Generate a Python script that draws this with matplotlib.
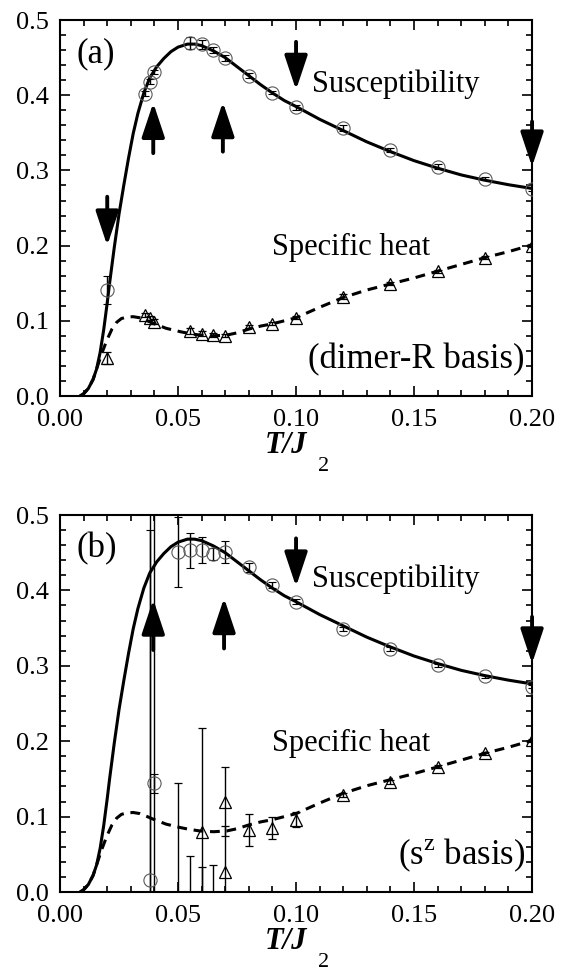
import matplotlib
matplotlib.use('Agg')
import matplotlib.pyplot as plt
from matplotlib.ticker import MultipleLocator, FormatStrFormatter

plt.rcParams['font.family'] = ['Liberation Serif', 'DejaVu Serif']
plt.rcParams['mathtext.fontset'] = 'custom'
plt.rcParams['mathtext.rm'] = 'Liberation Serif'

# reference curves (same in both panels)
T_chi_line = [0.0085, 0.010, 0.012, 0.014, 0.0155, 0.017, 0.0185, 0.020, 0.021, 0.023,
              0.025, 0.027, 0.029, 0.031, 0.033, 0.0355, 0.038, 0.041, 0.044, 0.047,
              0.050, 0.054, 0.057, 0.060, 0.065, 0.070, 0.075, 0.080, 0.085, 0.090,
              0.095, 0.10, 0.11, 0.12, 0.13, 0.14, 0.15, 0.16, 0.17, 0.18, 0.19, 0.20]
chi_line = [0.0, 0.003, 0.010, 0.022, 0.036, 0.058, 0.088, 0.124, 0.150, 0.198,
            0.242, 0.280, 0.316, 0.349, 0.376, 0.403, 0.423, 0.438, 0.449, 0.458,
            0.464, 0.468, 0.468, 0.466, 0.459, 0.450, 0.438, 0.426, 0.414, 0.403,
            0.393, 0.385, 0.368, 0.353, 0.338, 0.325, 0.313, 0.303, 0.294, 0.287, 0.281, 0.276]

T_C_line = [0.0085, 0.010, 0.012, 0.014, 0.0155, 0.0175, 0.0198, 0.022, 0.024, 0.026,
            0.0283, 0.031, 0.0339, 0.037, 0.0395, 0.045, 0.051, 0.055, 0.0593, 0.065,
            0.0706, 0.075, 0.080, 0.085, 0.090, 0.095, 0.10, 0.11, 0.12, 0.13,
            0.14, 0.15, 0.16, 0.17, 0.18, 0.19, 0.20]
C_line = [0.0, 0.003, 0.010, 0.022, 0.036, 0.055, 0.074, 0.089, 0.098, 0.103,
          0.105, 0.1055, 0.104, 0.100, 0.0966, 0.090, 0.0855, 0.083, 0.081, 0.080,
          0.081, 0.084, 0.089, 0.093, 0.096, 0.100, 0.104, 0.118, 0.131, 0.141,
          0.149, 0.157, 0.166, 0.175, 0.184, 0.192, 0.201]

# panel (a): dimer-R basis
T_chi_a = [0.02, 0.036, 0.038, 0.04, 0.055, 0.06, 0.065, 0.07, 0.08, 0.09, 0.10, 0.12, 0.14, 0.16, 0.18, 0.20]
chi_a = [0.141, 0.402, 0.418, 0.431, 0.470, 0.468, 0.460, 0.449, 0.426, 0.403, 0.384, 0.356, 0.327, 0.305, 0.289, 0.275]
chi_a_err = [0.018, 0.003, 0.003, 0.003, 0.008, 0.006, 0.004, 0.004, 0.003, 0.002, 0.003, 0.004, 0.003, 0.003, 0.002, 0.002]

T_C_a = [0.02, 0.036, 0.038, 0.04, 0.055, 0.06, 0.065, 0.07, 0.08, 0.09, 0.10, 0.12, 0.14, 0.16, 0.18, 0.20]
C_a = [0.050, 0.108, 0.104, 0.099, 0.086, 0.083, 0.081, 0.080, 0.092, 0.096, 0.104, 0.132, 0.149, 0.166, 0.184, 0.200]
C_a_err = [0.008, 0.003, 0.003, 0.003, 0.004, 0.003, 0.003, 0.002, 0.002, 0.002, 0.002, 0.003, 0.002, 0.002, 0.002, 0.002]

# panel (b): s^z basis
T_chi_b = [0.038, 0.04, 0.05, 0.055, 0.06, 0.065, 0.07, 0.08, 0.09, 0.10, 0.12, 0.14, 0.16, 0.18, 0.20]
chi_b = [0.016, 0.144, 0.451, 0.453, 0.454, 0.448, 0.451, 0.431, 0.407, 0.385, 0.349, 0.322, 0.301, 0.286, 0.272]
chi_b_err = [0.464, 0.013, 0.047, 0.023, 0.017, 0.008, 0.015, 0.006, 0.004, 0.003, 0.003, 0.003, 0.002, 0.002, 0.002]

T_C_b = [0.038, 0.04, 0.05, 0.055, 0.06, 0.06, 0.065, 0.07, 0.07, 0.08, 0.09, 0.10, 0.12, 0.14, 0.16, 0.18, 0.20]
C_b = [-0.25, -0.30, -0.15, -0.10, 0.080, -0.10, -0.10, 0.120, 0.027, 0.082, 0.085, 0.096, 0.129, 0.146, 0.166, 0.184, 0.201]
C_b_err = [0.90, 1.00, 0.294, 0.148, 0.138, 0.133, 0.136, 0.046, 0.060, 0.021, 0.015, 0.010, 0.003, 0.003, 0.002, 0.002, 0.002]

# arrows: (T, tail, tip)
arrows_a = [(0.02, 0.265, 0.200), (0.0395, 0.323, 0.390), (0.069, 0.325, 0.391),
            (0.10, 0.471, 0.407), (0.20, 0.365, 0.305)]
arrows_b = [(0.0395, 0.321, 0.388), (0.0695, 0.323, 0.390),
            (0.10, 0.469, 0.405), (0.20, 0.365, 0.303)]

fig = plt.figure(figsize=(5.61, 9.73), dpi=100)
ax_a = fig.add_axes([0.107, 0.593, 0.8414, 0.3864])
ax_b = fig.add_axes([0.107, 0.0832, 0.8414, 0.3875])


def style_axis(ax):
    ax.set_xlim(0, 0.2)
    ax.set_ylim(0, 0.5)
    ax.xaxis.set_major_locator(MultipleLocator(0.05))
    ax.xaxis.set_minor_locator(MultipleLocator(0.01))
    ax.yaxis.set_major_locator(MultipleLocator(0.1))
    ax.yaxis.set_minor_locator(MultipleLocator(0.02))
    ax.xaxis.set_major_formatter(FormatStrFormatter('%.2f'))
    ax.yaxis.set_major_formatter(FormatStrFormatter('%.1f'))
    ax.tick_params(which='both', direction='in', top=True, right=True, width=1.2)
    ax.tick_params(which='major', length=7, labelsize=19)
    ax.tick_params(which='minor', length=4)
    ax.tick_params(axis='x', pad=9)
    ax.tick_params(axis='y', pad=8)
    for s in ax.spines.values():
        s.set_linewidth(1.5)
    ax.text(0.479, -0.092, 'T/J', transform=ax.transAxes, ha='center', va='top',
            fontsize=22, style='italic', weight='bold')
    ax.text(0.546, -0.2, '2', transform=ax.transAxes, ha='left', va='baseline',
            fontsize=16)


def draw_panel(ax, T_chi, chi, chi_err, T_C, C, C_err, arrows, tag, basis):
    ax.plot(T_chi_line, chi_line, color='k', lw=2.2, zorder=3)
    ax.plot(T_C_line, C_line, color='k', lw=2.2, ls=(0, (3.2, 2.2)), zorder=3)
    ax.errorbar(T_chi, chi, yerr=chi_err, fmt='o', ms=9.5, mfc='none', mec='0.35', mew=0.8,
                ecolor='k', elinewidth=1, capsize=3, capthick=1, zorder=4)
    ax.errorbar(T_C, C, yerr=C_err, fmt='^', ms=9, mfc='none', mec='k', mew=0.9,
                ecolor='k', elinewidth=1, capsize=3, capthick=1, zorder=4)
    for x, y0, y1 in arrows:
        ax.annotate('', xy=(x, y1), xytext=(x, y0),
                    arrowprops=dict(arrowstyle='-|>,head_length=2.1,head_width=0.7',
                                    color='k', lw=2.8, shrinkA=0, shrinkB=0,
                                    mutation_scale=10))
    ax.text(0.035, 0.955, tag, transform=ax.transAxes, ha='left', va='top', fontsize=25)
    ax.text(0.1068, 0.404, 'Susceptibility', ha='left', va='baseline', fontsize=22)
    ax.text(0.0897, 0.187, 'Specific heat', ha='left', va='baseline', fontsize=22)
    ax.text(0.197, 0.037, basis, ha='right', va='baseline', fontsize=25)
    style_axis(ax)


draw_panel(ax_a, T_chi_a, chi_a, chi_a_err, T_C_a, C_a, C_a_err, arrows_a,
           '(a)', '(dimer-R basis)')
draw_panel(ax_b, T_chi_b, chi_b, chi_b_err, T_C_b, C_b, C_b_err, arrows_b,
           '(b)', r'(s$^{\mathrm{z}}$ basis)')

fig.savefig('out.png', dpi=100)
